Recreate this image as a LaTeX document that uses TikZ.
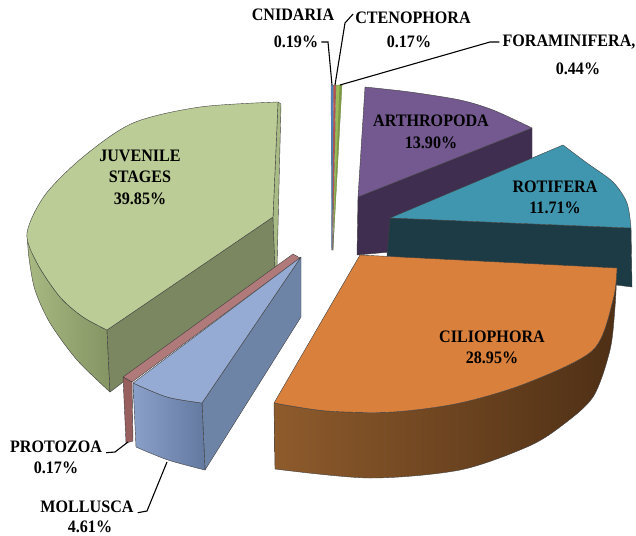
\documentclass[tikz,border=0pt]{standalone}
\usepackage{fontspec}
\setmainfont[FakeStretch=0.92]{Liberation Serif}
\definecolor{juvTop}{HTML}{BBCC96}
\definecolor{juvDark}{HTML}{7A8760}
\definecolor{juvWallL}{HTML}{A8B982}
\definecolor{juvWallR}{HTML}{849463}
\definecolor{juvEdge}{HTML}{A9BB85}
\definecolor{artTop}{HTML}{73598F}
\definecolor{artWall}{HTML}{3F2E50}
\definecolor{rotTop}{HTML}{3F96AE}
\definecolor{rotWall}{HTML}{1C3B45}
\definecolor{cilTop}{HTML}{D9803C}
\definecolor{cilWallL}{HTML}{8E5B2C}
\definecolor{cilWallR}{HTML}{4E2F15}
\definecolor{molTop}{HTML}{95ABD3}
\definecolor{molWallL}{HTML}{8AA0C9}
\definecolor{molWallR}{HTML}{6379A0}
\definecolor{molSide}{HTML}{6E84A7}
\definecolor{proTop}{HTML}{B07A7A}
\definecolor{proFront}{HTML}{985F5F}
\definecolor{slBlue}{HTML}{4F81BD}
\definecolor{slRed}{HTML}{C0504D}
\definecolor{slGreen}{HTML}{9BBB59}
\definecolor{slGreenD}{HTML}{7E9A46}
\begin{document}
\begin{tikzpicture}[x=1pt,y=-1pt,
  edge/.style={draw=black!75,line width=0.4pt,line join=round},
  thinedge/.style={draw=black!60,line width=0.2pt,line join=round},
  lbl/.style={font=\bfseries\fontsize{17.5}{21.5}\selectfont,align=center,inner sep=1pt,text=black},
  leader/.style={draw=black,line width=1.1pt,line join=miter}]
\useasboundingbox[fill=white] (0,0) rectangle (636,535);

% --- thin slivers at the top (Cnidaria, Ctenophora, Foraminifera)
\path[fill=slBlue,thinedge] (331,85) -- (333.5,85) -- (332.5,250) -- (331.5,250) -- cycle;
\path[fill=slRed,thinedge] (333.5,85) -- (336,85) -- (333,250) -- (332.5,250) -- cycle;
\path[fill=slGreen,thinedge] (336,85) -- (342,85) -- (333,250) -- cycle;
\path[fill=slGreenD] (339.5,85) -- (342,85) -- (333,250) -- cycle;
\coordinate (cnT) at (332,85);
\coordinate (ctT) at (335,85);
\coordinate (foT) at (340,85);

% --- Arthropoda
\path[fill=artWall,edge] (358,197) -- (532,128) -- (532,195) -- (390,252) -- (357,255) -- cycle;
\path[fill=artTop,edge] (358,197) -- (365,87)
   -- plot[smooth] coordinates {(365,87) (410,92) (460,100) (493,110) (532,128)} -- cycle;

% --- Rotifera
\path[fill=rotWall,edge] (390,218) -- (631,228) -- (632,287) -- (387,256) -- cycle;
\path[fill=rotTop,edge] (390,218) -- (563,145)
   -- plot[smooth] coordinates {(563,145) (587,163) (613,182) (627,203) (631,228)} -- cycle;

% --- Juvenile stages
\shade[left color=juvWallL,right color=juvWallR,edge]
   plot[smooth] coordinates {(27,233) (37,263) (60,297) (83,317) (107,330)}
   -- (110,392)
   -- plot[smooth] coordinates {(110,392) (77,360) (50,323) (35,290) (29,258) (27,233)} -- cycle;
\path[fill=juvDark,edge] (107,330) -- (273,217) -- (275,268) -- (110,392) -- cycle;
\path[fill=juvEdge,edge] (278,102) -- (281,104) -- (277,268) -- (275,268) -- (273,217) -- cycle;
\path[fill=juvTop,edge] (273,217) -- (278,102)
   -- plot[smooth] coordinates {(278,102) (200,107) (133,123) (83,157) (45,195) (27,233) (37,263) (60,297) (83,317) (107,330)} -- cycle;

% --- Protozoa
\path[fill=proTop,edge] (123,377) -- (293,254) -- (300,258) -- (132,382) -- cycle;
\path[fill=proFront,edge] (123,377) -- (132,382) -- (133,441) -- (126,443) -- cycle;
\coordinate (pzT) at (128,442);

% --- Mollusca
\path[fill=molSide,edge] (202,403) -- (301,257) -- (301,317) -- (205,470) -- cycle;
\shade[left color=molWallL,right color=molWallR,edge]
   plot[smooth] coordinates {(133,383) (167,397) (202,403)}
   -- (205,470)
   -- plot[smooth] coordinates {(205,470) (168,460) (136,447)} -- cycle;
\path[fill=molTop,edge] (133,383) -- (301,257) -- (202,403)
   -- plot[smooth] coordinates {(202,403) (167,397) (133,383)} -- cycle;
\coordinate (mlT) at (167,462);

% --- Ciliophora
\shade[left color=cilWallL,right color=cilWallR,edge]
   plot[smooth] coordinates {(274,403) (327,411) (393,412) (460,403) (527,383) (593,350) (613,300) (617,268)}
   -- plot[smooth] coordinates {(617,268) (615,307) (610,350) (593,397) (560,427) (527,447) (460,470) (370,478) (275,469)}
   -- cycle;
\path[fill=cilTop,edge] (360,255) -- (274,403)
   -- plot[smooth] coordinates {(274,403) (327,411) (393,412) (460,403) (527,383) (593,350) (613,300) (617,268)} -- cycle;

% --- labels inside slices
\node[lbl] (juv) at (140,177) {JUVENILE\\STAGES\\39.85\%};
\node[lbl] (art) at (431,132) {ARTHROPODA\\13.90\%};
\node[lbl] (rot) at (555,197.5) {ROTIFERA\\11.71\%};
\node[lbl] (cil) at (492,347.5) {CILIOPHORA\\28.95\%};

% --- outside labels
\node[lbl] (cnN) at (293,15) {CNIDARIA};
\node[lbl] (cnP) at (296,42) {0.19\%};
\node[lbl] (ctN) at (413,18) {CTENOPHORA};
\node[lbl] (ctP) at (409,42) {0.17\%};
\node[lbl] (foN) at (569,42) {FORAMINIFERA,};
\node[lbl] (foP) at (578,69) {0.44\%};
\node[lbl] (pzN) at (56,447) {PROTOZOA};
\node[lbl] (pzP) at (56,468) {0.17\%};
\node[lbl] (mlN) at (87,507) {MOLLUSCA};
\node[lbl] (mlP) at (90,527) {4.61\%};

% --- leader lines
\coordinate (cn1) at (328,42);
\coordinate (ct1) at (345,23);
\coordinate (fo1) at (490,42);
\coordinate (pz1) at (115,452);
\coordinate (ml1) at (147,511);
\draw[leader] ([xshift=2pt]cnP.east) -- (cn1) -- (cnT);
\draw[leader] ([xshift=-1pt,yshift=4pt]ctN.west) -- (ct1) -- (ctT);
\draw[leader] ([xshift=-2pt]foN.west) -- (fo1) -- (foT);
\draw[leader] ([xshift=3pt]pzN.base east) -- (pz1) -- (pzT);
\draw[leader] ([xshift=3pt]mlN.base east) -- (ml1) -- (mlT);
\end{tikzpicture}
\end{document}
